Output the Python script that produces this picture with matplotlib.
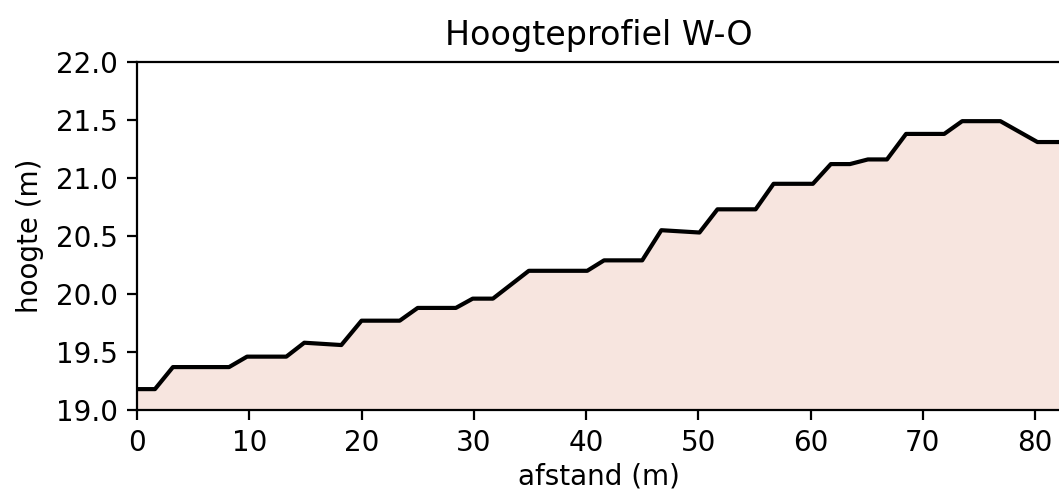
import numpy as np
import matplotlib
matplotlib.use('Agg')
import matplotlib.pyplot as plt

# afstand (m) en hoogte (m) van het profiel
afstand = [0, 1.6, 3.2, 8.2, 9.8, 13.3, 14.9, 18.2, 20.0, 23.4, 25.0, 28.4,
           29.9, 31.7, 34.9, 40.1, 41.6, 45.0, 46.7, 50.1, 51.7, 55.1, 56.7,
           60.2, 61.8, 63.5, 65.1, 66.8, 68.5, 71.9, 73.5, 76.9, 80.2, 82.0]
hoogte = [19.18, 19.18, 19.37, 19.37, 19.46, 19.46, 19.58, 19.56, 19.77, 19.77,
          19.88, 19.88, 19.96, 19.96, 20.20, 20.20, 20.29, 20.29, 20.55, 20.53,
          20.73, 20.73, 20.95, 20.95, 21.12, 21.12, 21.16, 21.16, 21.38, 21.38,
          21.49, 21.49, 21.31, 21.31]

fig = plt.figure(figsize=(1059 / 200, 493 / 200), dpi=200)
ax = fig.add_axes([137 / 1059, 83 / 493, 924 / 1059, 348 / 493])

ax.fill_between(afstand, 19.0, hoogte, color='#f7e5df')
ax.plot(afstand, hoogte, color='black', lw=1.5)

ax.set_xlim(0, 82.3)
ax.set_ylim(19.0, 22.0)
ax.set_yticks(np.arange(19.0, 22.01, 0.5))
ax.set_xticks(range(0, 81, 10))
ax.set_title('Hoogteprofiel W-O')
ax.set_xlabel('afstand (m)', labelpad=2)
ax.set_ylabel('hoogte (m)')

fig.savefig('out.png', dpi=200)
